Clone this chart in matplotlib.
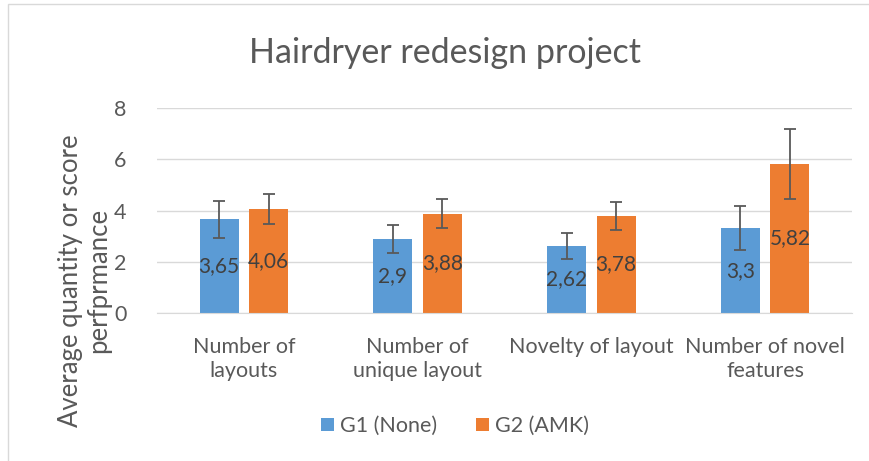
import matplotlib.pyplot as plt
import numpy as np
from matplotlib.patches import Rectangle

categories = ["Number of\nlayouts", "Number of\nunique layout", "Novelty of layout", "Number of novel\nfeatures"]
g1_values = [3.65, 2.9, 2.62, 3.3]
g2_values = [4.06, 3.88, 3.78, 5.82]
g1_err = [0.72, 0.54, 0.5, 0.86]
g2_err = [0.6, 0.58, 0.55, 1.36]
g1_labels = ["3,65", "2,9", "2,62", "3,3"]
g2_labels = ["4,06", "3,88", "3,78", "5,82"]
series_names = ["G1 (None)", "G2 (AMK)"]

plt.rcParams['font.family'] = ['Lato', 'DejaVu Sans']
text_color = "#595959"
blue = "#5B9BD5"
orange = "#ED7D31"

fig = plt.figure(figsize=(8.7, 4.61), dpi=100)
ax = fig.add_axes([157 / 870, 1 - 313 / 461, 695 / 870, 205 / 461])

# outer chart border
fig.patches.append(Rectangle((8 / 870, -0.1), 1.2, 1.092, transform=fig.transFigure,
                             fill=False, edgecolor="#D9D9D9", linewidth=1.0))

x = np.arange(len(categories))
w = 0.224
off = 0.142
err_kw = dict(ecolor="#595959", elinewidth=1.3, capsize=4, capthick=1.3)
ax.bar(x - off, g1_values, w, color=blue, yerr=g1_err, error_kw=err_kw, label=series_names[0], zorder=2)
ax.bar(x + off, g2_values, w, color=orange, yerr=g2_err, error_kw=err_kw, label=series_names[1], zorder=2)

for i in range(len(categories)):
    ax.text(x[i] - off, g1_values[i] / 2, g1_labels[i], ha="center", va="center",
            fontsize=15, color="#404040", zorder=3)
    ax.text(x[i] + off, g2_values[i] / 2, g2_labels[i], ha="center", va="center",
            fontsize=15, color="#404040", zorder=3)

ax.set_xlim(-0.5, len(categories) - 0.5)
ax.set_ylim(0, 8)
ax.set_yticks([0, 2, 4, 6, 8])
ax.yaxis.grid(True, color="#D9D9D9", linewidth=1.0, zorder=0)
ax.set_axisbelow(True)
for s in ["top", "right", "left"]:
    ax.spines[s].set_visible(False)
ax.spines["bottom"].set_color("#D9D9D9")
ax.tick_params(axis="both", length=0, colors=text_color, labelsize=15.5)
ax.tick_params(axis="y", pad=22)
ax.tick_params(axis="x", pad=17)
ax.set_xticks(x)
ax.set_xticklabels(categories, linespacing=1.3)

ax.set_ylabel("Average quantity or score\nperfprmance", fontsize=18.5, color=text_color,
              linespacing=1.15)
ax.yaxis.set_label_coords(-0.066, 0.16)
fig.text(445 / 870, 1 - 53 / 461, "Hairdryer redesign project", ha="center", va="center",
         fontsize=24.5, color=text_color)

ax.legend(loc="center", bbox_to_anchor=(455 / 870, 1 - 426 / 461), bbox_transform=fig.transFigure,
          ncol=2, frameon=False, fontsize=15.5, handlelength=0.6, handleheight=0.6,
          handletextpad=0.3, columnspacing=1.8, labelcolor=text_color)

fig.savefig("out.png", dpi=100)
